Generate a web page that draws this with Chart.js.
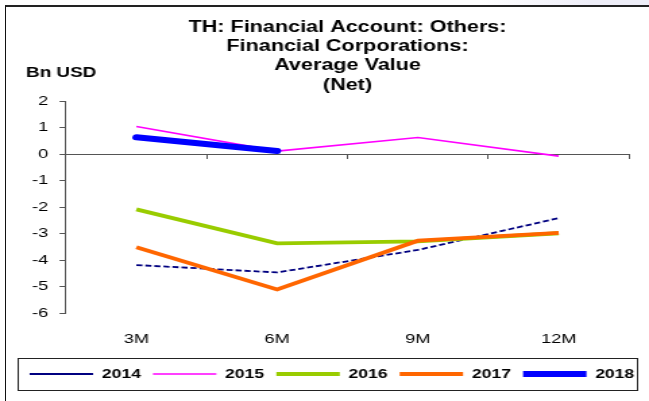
<!DOCTYPE html>
<html>
<head>
<meta charset="utf-8">
<script src="https://cdn.jsdelivr.net/npm/chart.js@4"></script>
<style>
  html, body { margin: 0; padding: 0; background: #fff; }
  body { width: 649px; height: 401px; overflow: hidden; position: relative; }
  #band {
    position: absolute; left: 0; top: 0; width: 649px; height: 5px;
    background: linear-gradient(to right, #ffffff 0px, #ffffff 480px, #eeeef8 590px);
  }
  #frame {
    position: absolute; left: 5px; top: 5px; width: 800px; height: 600px;
    border-left: 1px solid #111; border-top: 2px solid #222;
  }
  /* the chart is laid out narrow and widened, so text comes out broad */
  #wrap {
    position: absolute; left: 0; top: 0; width: 481px; height: 401px;
    transform: scaleX(1.3493); transform-origin: 0 0;
  }
</style>
</head>
<body>
<div id="band"></div>
<div id="frame"></div>
<div id="wrap"><canvas id="chart" width="481" height="401"></canvas></div>
<script>
const periods = ['3M', '6M', '9M', '12M'];

const y2014 = [-4.19, -4.47, -3.62, -2.42];
const y2015 = [1.04, 0.11, 0.62, -0.08];
const y2016 = [-2.09, -3.37, -3.30, -2.99];
const y2017 = [-3.52, -5.11, -3.27, -2.98];
const y2018 = [0.63, 0.11, null, null];

const yTicks = [2, 1, 0, -1, -2, -3, -4, -5, -6];

const titleLines = [
  'TH: Financial Account: Others:',
  'Financial Corporations:',
  'Average Value',
  '(Net)'
];

const FONT = 'Arial, "Liberation Sans", sans-serif';
const AXIS = '#555';

// unit label above the value axis and a box round the legend
const extras = {
  id: 'extras',
  afterDraw(chart) {
    const ctx = chart.ctx;
    ctx.save();
    ctx.fillStyle = '#000';
    ctx.font = 'bold 14px ' + FONT;
    ctx.textBaseline = 'middle';
    ctx.textAlign = 'left';
    ctx.fillText('Bn USD', 19.3, 73);

    const hb = chart.legend.legendHitBoxes;
    if (hb && hb.length) {
      const last = hb[hb.length - 1];
      const left = hb[0].left - 8.9;
      const right = last.left + last.width + 2.2;
      const cy = hb[0].top + hb[0].height / 2;
      ctx.strokeStyle = '#222';
      ctx.lineWidth = 1;
      ctx.strokeRect(Math.round(left) + 0.5, Math.round(cy - 16) + 0.5,
        Math.round(right - left), 32);
    }
    ctx.restore();
  }
};

function series(label, data, color, width, order, extra) {
  return Object.assign({
    label: label,
    data: data,
    borderColor: color,
    backgroundColor: color,
    borderWidth: width,
    pointRadius: 0,
    tension: 0,
    fill: false,
    spanGaps: false,
    order: order,
    xAxisID: 'x',
    yAxisID: 'y'
  }, extra || {});
}

new Chart(document.getElementById('chart'), {
  type: 'line',
  data: {
    labels: periods,
    datasets: [
      series('2014', y2014, '#000080', 1.8, 4, { borderDash: [4.5, 2.2] }),
      series('2015', y2015, '#FF00FF', 1.6, 3),
      series('2016', y2016, '#99CC00', 3.8, 2),
      series('2017', y2017, '#FF6600', 3.8, 1),
      series('2018', y2018, '#0000FF', 6, 0, { borderCapStyle: 'round' })
    ]
  },
  plugins: [extras],
  options: {
    responsive: false,
    animation: false,
    devicePixelRatio: 1,
    layout: { padding: { left: 11, right: 0, top: 8, bottom: 10.5 } },
    plugins: {
      tooltip: { enabled: false },
      title: {
        display: true,
        text: titleLines,
        fullSize: false,
        color: '#000',
        font: { family: FONT, size: 16, weight: 'bold', lineHeight: 1.2 },
        padding: { top: 10, bottom: 6.2 }
      },
      legend: {
        position: 'bottom',
        labels: {
          usePointStyle: true,
          pointStyle: 'line',
          pointStyleWidth: 47,
          padding: 9,
          color: '#000',
          font: { family: FONT, size: 13, weight: 'bold' },
          sort: (a, b) => a.datasetIndex - b.datasetIndex
        }
      }
    },
    scales: {
      y: {
        type: 'linear',
        position: 'left',
        min: -6,
        max: 2,
        afterFit: s => { s.width = 37.9; },
        afterBuildTicks: s => { s.ticks = yTicks.map(v => ({ value: v })); },
        border: { display: true, color: AXIS, width: 1 },
        grid: { drawOnChartArea: false, drawTicks: true, tickLength: 4.8, color: AXIS },
        ticks: { color: '#000', padding: 8.4, font: { family: FONT, size: 13.5 } }
      },
      yr: {
        type: 'linear',
        position: 'right',
        display: true,
        afterFit: s => { s.width = 14.8; },
        border: { display: false },
        grid: { display: false },
        ticks: { display: false }
      },
      x: {
        type: 'category',
        position: { y: 0 },
        offset: true,
        border: { display: true, color: AXIS, width: 1 },
        grid: { offset: true, drawOnChartArea: false, drawTicks: true, tickLength: 4, color: AXIS },
        ticks: { display: false }
      },
      x2: {
        type: 'category',
        axis: 'x',
        position: 'bottom',
        offset: true,
        afterFit: s => { s.height = 45.5; },
        border: { display: false },
        grid: { display: false, offset: true },
        ticks: { color: '#000', padding: 10, font: { family: FONT, size: 13.5 } }
      }
    }
  }
});
</script>
</body>
</html>
